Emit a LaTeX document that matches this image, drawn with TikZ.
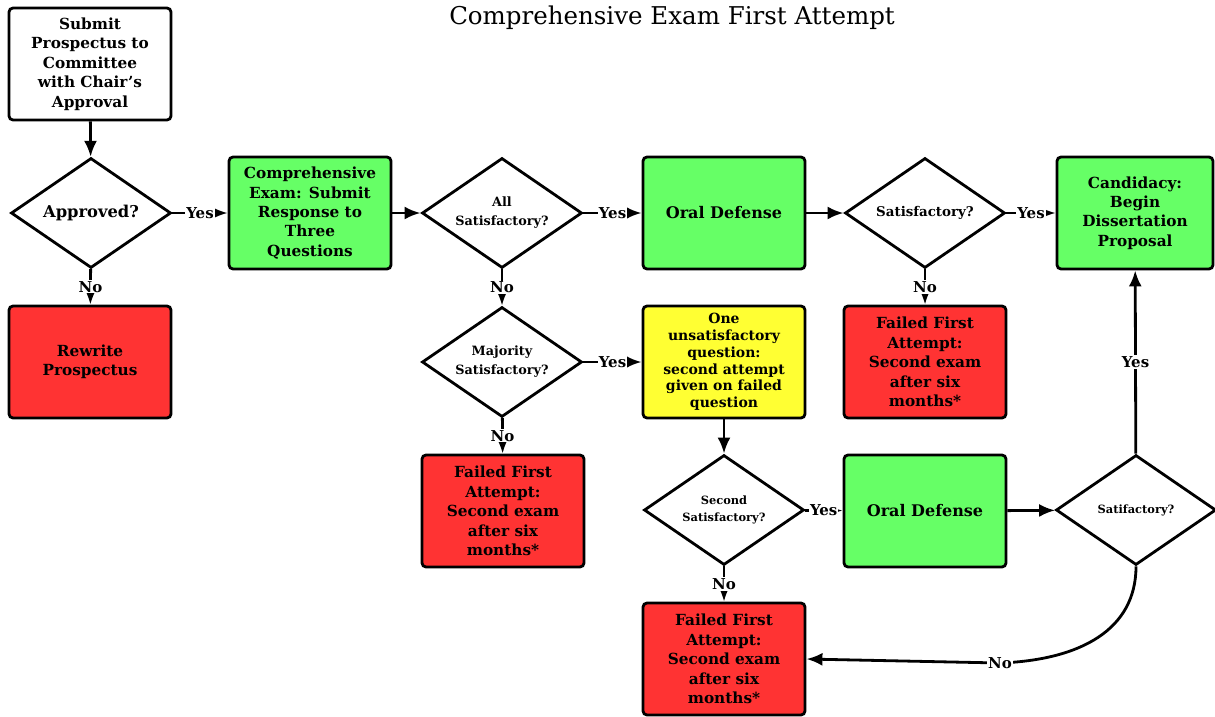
\documentclass[tikz,border=0pt]{standalone}
\usepackage{fontspec}
\setmainfont{DejaVu Serif}
\usetikzlibrary{shapes.geometric,arrows.meta}
\definecolor{gbox}{RGB}{102,255,102}
\definecolor{rbox}{RGB}{255,51,51}
\definecolor{ybox}{RGB}{255,255,51}
\newcommand{\bxfont}{\fontsize{15.3pt}{19.4pt}\selectfont\bfseries}
\tikzset{
  box/.style={draw, line width=2.8pt, rounded corners=4pt, minimum width=162pt, minimum height=112pt, align=center, inner sep=2pt, font=\bxfont},
  dia/.style={diamond, aspect=1.45, draw, line width=2.8pt, minimum width=160pt, minimum height=110pt, inner sep=0pt, align=center, fill=white},
  arr/.style={line width=2.8pt, -{Latex[length=16pt,width=13pt]}},
  lab/.style={fill=white, inner sep=1pt, font=\fontsize{15pt}{16pt}\selectfont\bfseries}
}
\begin{document}
\begin{tikzpicture}[x=1pt,y=-1pt]
\useasboundingbox (0,0) rectangle (1215,717);
\node[font=\fontsize{24.5pt}{26pt}\selectfont] (title) at (672,18) {Comprehensive Exam First Attempt};
\node[box] (sub) at (90,64) {Submit\\Prospectus to\\Committee\\with Chair's\\Approval};
\node[dia, font=\fontsize{16.3pt}{19pt}\selectfont\bfseries] (app) at (91,213) {Approved?};
\node[box, fill=gbox] (comp) at (310,213) {Comprehensive\\Exam: Submit\\Response to\\Three\\Questions};
\node[dia, font=\fontsize{12.8pt}{19pt}\selectfont\bfseries] (all) at (502,213) {All\\Satisfactory?};
\node[box, fill=gbox] (oral1) at (724,213) {\fontsize{16pt}{19pt}\selectfont Oral Defense};
\node[dia, font=\fontsize{13.4pt}{16pt}\selectfont\bfseries] (sat1) at (925,213) {Satisfactory?};
\node[box, fill=gbox, minimum width=156pt] (cand) at (1135,213) {Candidacy:\\Begin\\Dissertation\\Proposal};
\node[box, fill=rbox] (rew) at (90,362) {Rewrite\\Prospectus};
\node[dia, font=\fontsize{12.8pt}{19pt}\selectfont\bfseries] (maj) at (502,362) {Majority\\Satisfactory?};
\node[box, fill=ybox, font=\fontsize{14pt}{16.7pt}\selectfont\bfseries] (yel) at (724,362) {One\\unsatisfactory\\question:\\second attempt\\given on failed\\question};
\node[box, fill=rbox] (fail1) at (925,362) {Failed First\\Attempt:\\Second exam\\after six\\months*};
\node[box, fill=rbox] (fail2) at (503,511) {Failed First\\Attempt:\\Second exam\\after six\\months*};
\node[dia, font=\fontsize{11.4pt}{17pt}\selectfont\bfseries] (sec) at (724,510) {Second\\Satisfactory?};
\node[box, fill=gbox] (oral2) at (925,511) {\fontsize{16pt}{19pt}\selectfont Oral Defense};
\node[dia, font=\fontsize{11.4pt}{15pt}\selectfont\bfseries] (sat2) at (1136,510) {Satifactory?};
\node[box, fill=rbox] (fail3) at (724,659) {Failed First\\Attempt:\\Second exam\\after six\\months*};
\coordinate (noC) at (1000,663);
\draw[arr] (sub) -- (app);
\draw[arr] (app) -- node[lab]{Yes} (comp);
\draw[arr] (comp) -- (all);
\draw[arr] (all) -- node[lab]{Yes} (oral1);
\draw[arr] (oral1) -- (sat1);
\draw[arr] (sat1) -- node[lab]{Yes} (cand);
\draw[arr] (app) -- node[lab]{No} (rew);
\draw[arr] (all) -- node[lab]{No} (maj);
\draw[arr] (sat1) -- node[lab]{No} (fail1);
\draw[arr] (maj) -- node[lab]{Yes} (yel);
\draw[arr] (maj) -- node[lab]{No} (fail2);
\draw[arr] (yel) -- (sec);
\draw[arr] (sec) -- node[lab]{Yes} (oral2);
\draw[arr] (sec) -- node[lab]{No} (fail3);
\draw[arr] (oral2) -- (sat2);
\draw[arr] (sat2) -- node[lab]{Yes} (cand);
\draw[arr] (sat2.south) .. controls (1136,630) and (1080,660) .. (noC) -- (fail3.east);
\node[lab] (nolab) at (noC) {No};
\end{tikzpicture}
\end{document}
